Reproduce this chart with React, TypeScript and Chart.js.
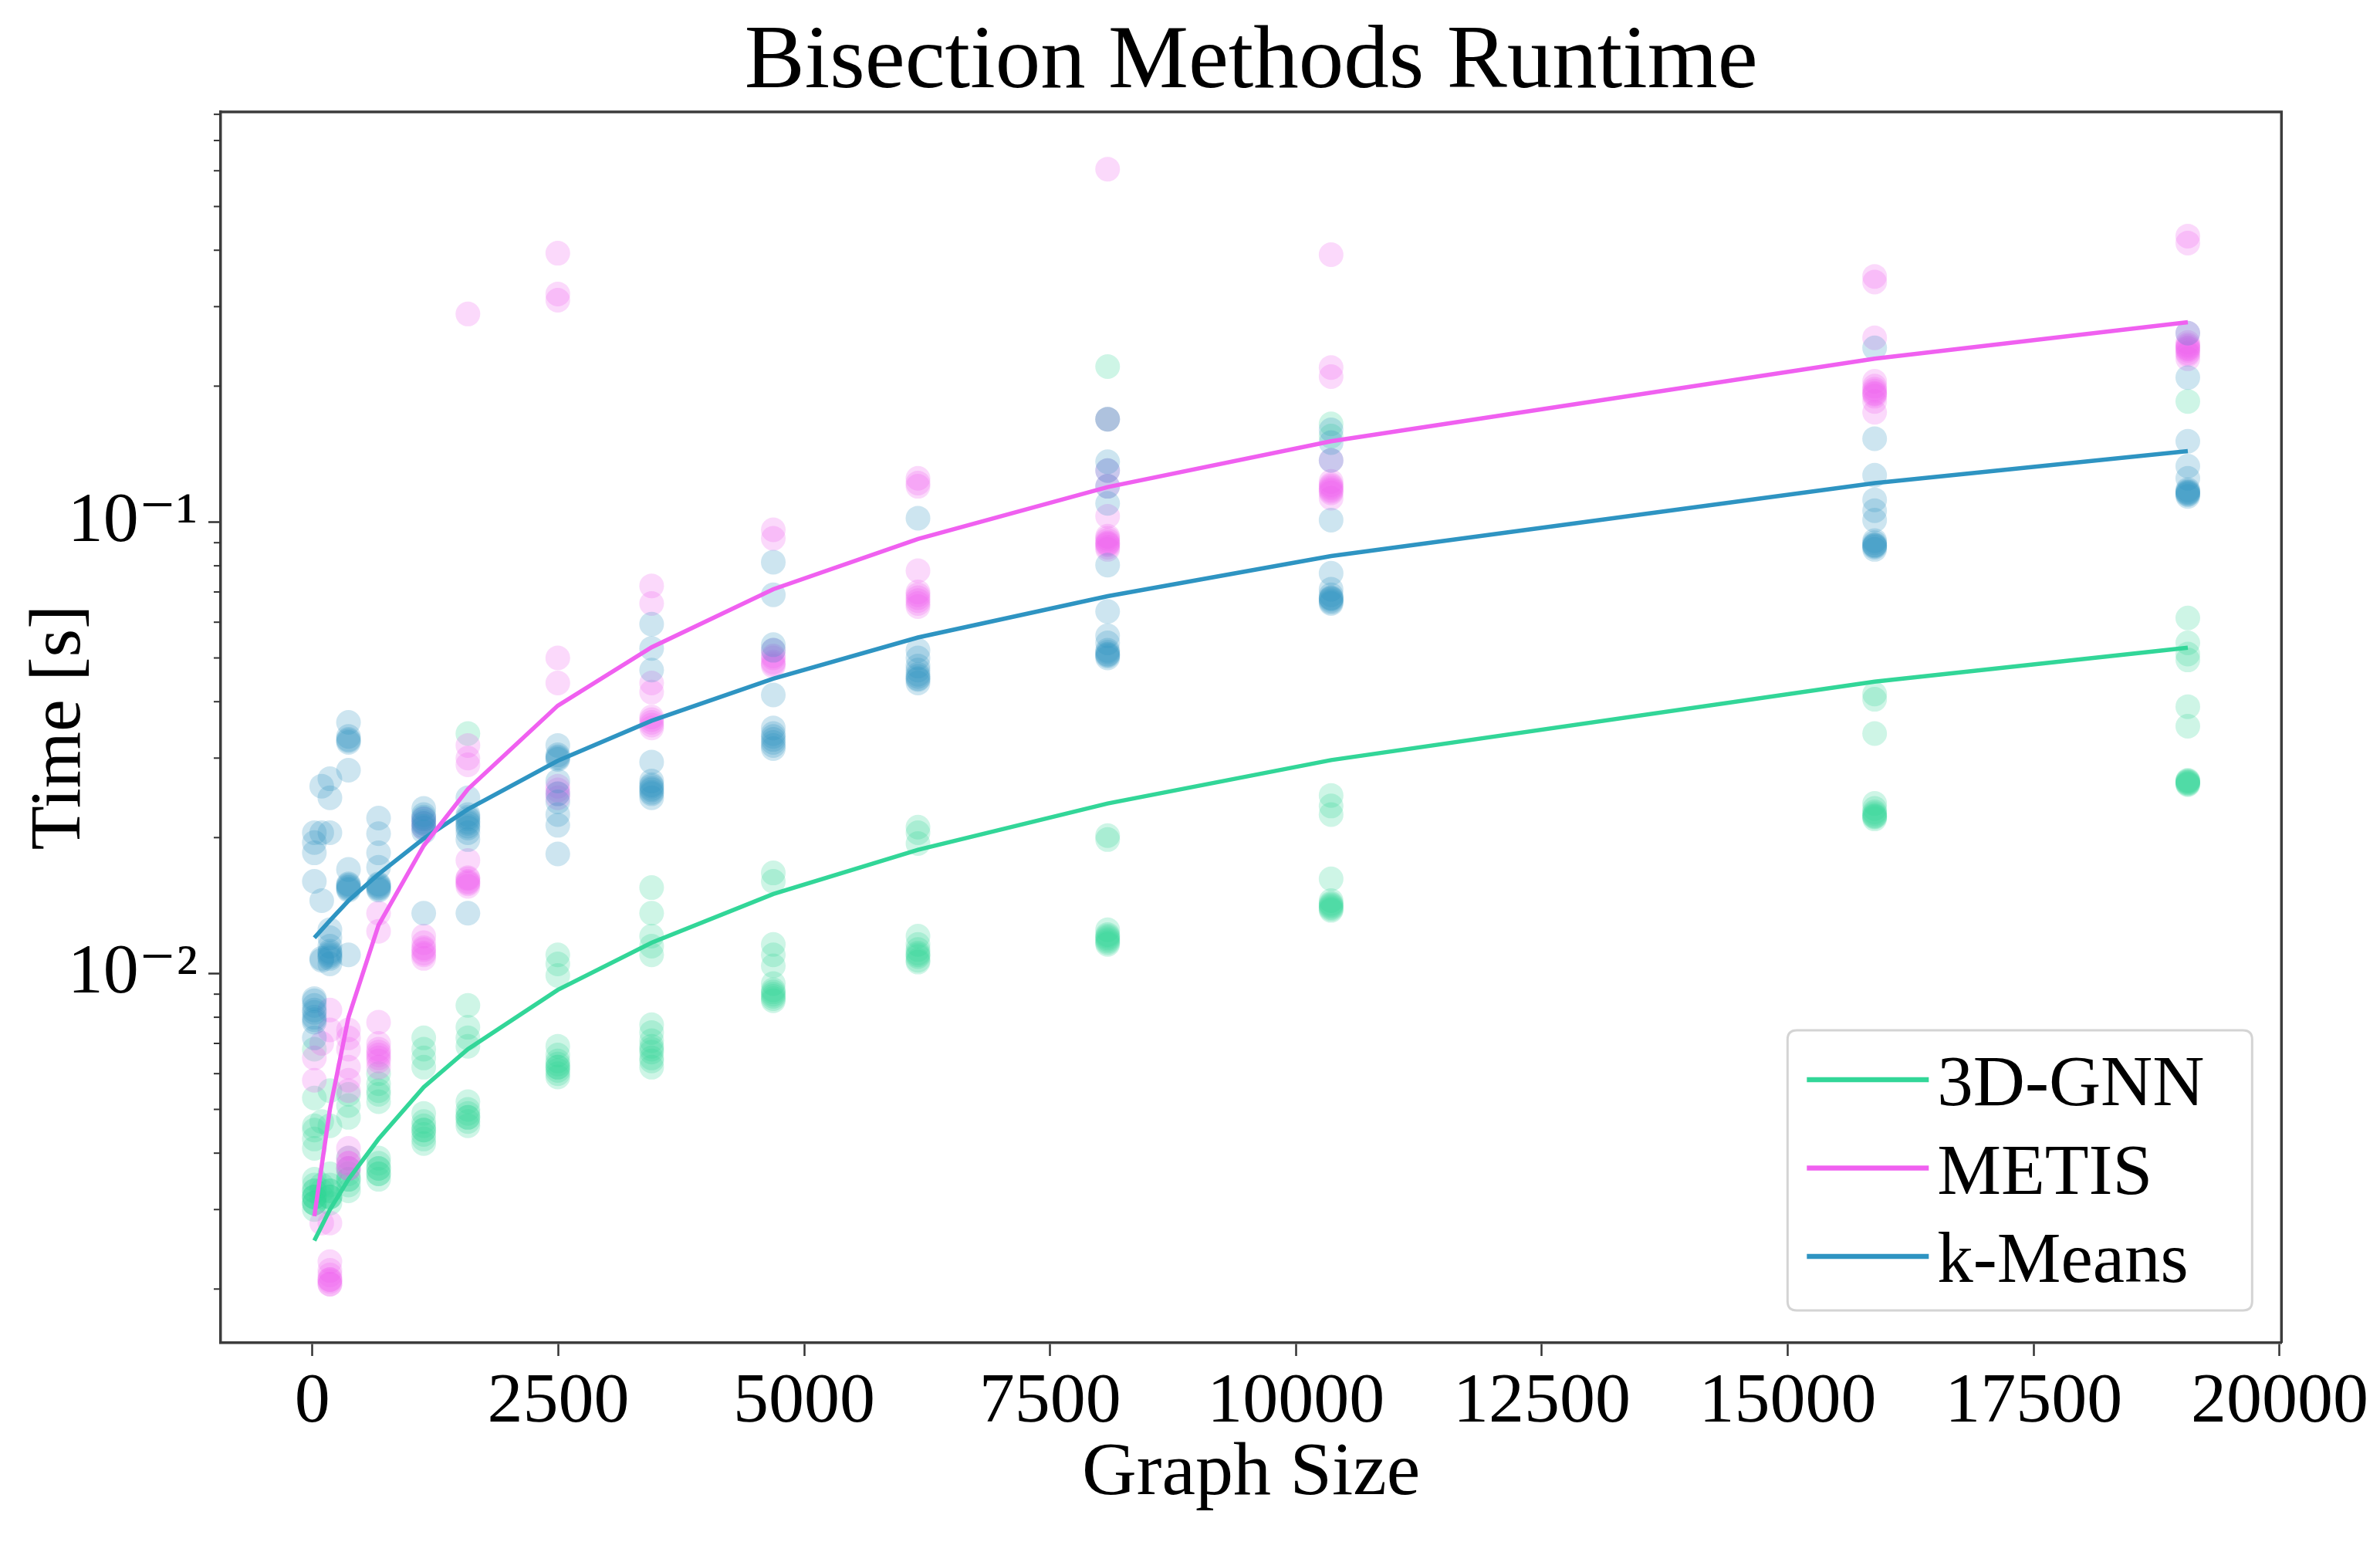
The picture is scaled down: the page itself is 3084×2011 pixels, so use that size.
import React, { useEffect, useRef } from 'react';
import { Chart, registerables } from 'chart.js';

Chart.register(...registerables);

// ---------- text ----------
const TITLE = 'Bisection Methods Runtime';
const X_LABEL = 'Graph Size';
const Y_LABEL = 'Time [s]';
const methodNames = ['3D-GNN', 'METIS', 'k-Means'];

// ---------- axes ----------
const xMin = -932;
const xMax = 20019;
const xTickValues = [0, 2500, 5000, 7500, 10000, 12500, 15000, 17500, 20000];
const yMin = 0.00152;
const yMax = 0.81;
const yMajorTicks = [0.01, 0.1];
const yTickLabels = ['10\u207B\u00B2', '10\u207B\u00B9'];
const yMinorTicks = [
  0.002, 0.003, 0.004, 0.005, 0.006, 0.007, 0.008, 0.009,
  0.02, 0.03, 0.04, 0.05, 0.06, 0.07, 0.08, 0.09,
  0.2, 0.3, 0.4, 0.5, 0.6, 0.7, 0.8,
];

// ---------- fitted curves ----------
const fitSizes = [20, 178, 367, 673, 1132, 1581, 2495, 3449, 4686, 6157, 8085, 10357, 15883, 19067];
const gnnFit = [0.00256, 0.0030, 0.0035, 0.0043, 0.0056, 0.0068, 0.0092, 0.0117, 0.0150, 0.0188, 0.0238, 0.0297, 0.0443, 0.0527];
const metisFit = [0.0029, 0.0050, 0.0080, 0.0128, 0.0192, 0.0256, 0.0392, 0.0528, 0.0710, 0.0917, 0.1195, 0.151, 0.230, 0.277];
const kmeansFit = [0.0120, 0.0131, 0.0145, 0.0166, 0.0199, 0.0231, 0.0296, 0.0363, 0.0450, 0.0555, 0.0685, 0.0841, 0.122, 0.1436];

// ---------- individual runs ----------
const runSizes = [20, 95, 178, 367, 673, 1132, 1581, 2495, 3449, 4686, 6157, 8085, 10357, 15883, 19067];

const gnnRuns: number[][] = [
  [0.0068, 0.0053, 0.0046, 0.0045, 0.0043, 0.0041, 0.0035, 0.0034, 0.0033, 0.0033, 0.0032, 0.0032, 0.0031, 0.0031, 0.0030, 0.0031, 0.0032],
  [0.0047, 0.0034, 0.0033, 0.0032],
  [0.0055, 0.0046, 0.0036, 0.0034, 0.0033, 0.0033, 0.0032, 0.0032, 0.0031, 0.0032],
  [0.0054, 0.0051, 0.0048, 0.0039, 0.0037, 0.0036, 0.0035, 0.0035, 0.0034, 0.0033],
  [0.0060, 0.0057, 0.0055, 0.0054, 0.0052, 0.0039, 0.0038, 0.0037, 0.0037, 0.0036, 0.0036, 0.0035],
  [0.0072, 0.0068, 0.0065, 0.0062, 0.0049, 0.0047, 0.0046, 0.0045, 0.0045, 0.0044, 0.0043, 0.0042],
  [0.034, 0.0085, 0.0076, 0.0072, 0.0069, 0.0052, 0.0050, 0.0049, 0.0048, 0.0048, 0.0047, 0.0046],
  [0.0110, 0.0105, 0.0099, 0.0069, 0.0066, 0.0064, 0.0063, 0.0062, 0.0062, 0.0061, 0.0060, 0.0059],
  [0.0155, 0.0136, 0.0121, 0.0115, 0.0110, 0.0077, 0.0074, 0.0071, 0.0069, 0.0068, 0.0067, 0.0065, 0.0064, 0.0062],
  [0.0167, 0.0160, 0.0116, 0.0110, 0.0104, 0.0095, 0.0092, 0.0091, 0.0090, 0.0089, 0.0088, 0.0087],
  [0.0211, 0.0205, 0.0194, 0.0121, 0.0116, 0.0113, 0.0111, 0.0110, 0.0109, 0.0107, 0.0106],
  [0.221, 0.169, 0.0202, 0.0198, 0.0125, 0.0122, 0.0121, 0.0120, 0.0119, 0.0118, 0.0117, 0.0116],
  [0.165, 0.155, 0.0248, 0.0235, 0.0225, 0.0162, 0.0145, 0.0143, 0.0142, 0.0141, 0.0140, 0.0139, 0.0138],
  [0.0416, 0.0405, 0.0340, 0.0238, 0.0232, 0.0228, 0.0226, 0.0224, 0.0223, 0.0222, 0.0220],
  [0.185, 0.0613, 0.0540, 0.0510, 0.0495, 0.0390, 0.0353, 0.0268, 0.0267, 0.0266, 0.0265, 0.0264, 0.0263, 0.0262],
];

const metisRuns: number[][] = [
  [0.0065, 0.0058],
  [0.0070, 0.0028],
  [0.0028, 0.0023, 0.0022, 0.00215, 0.0021, 0.0021, 0.00208, 0.00205, 0.00205, 0.0083, 0.0075],
  [0.0075, 0.0072, 0.0068, 0.0062, 0.0058, 0.0055, 0.0041, 0.0039, 0.0038, 0.0038, 0.0037, 0.0037],
  [0.0136, 0.0124, 0.0078, 0.0070, 0.0068, 0.0067, 0.0066, 0.0065, 0.0064, 0.0062],
  [0.0220, 0.0215, 0.0210, 0.0121, 0.0117, 0.0114, 0.0113, 0.0111, 0.0110, 0.0108],
  [0.289, 0.032, 0.030, 0.029, 0.0178, 0.0163, 0.0162, 0.0160, 0.0159, 0.0158, 0.0156],
  [0.394, 0.320, 0.310, 0.050, 0.044, 0.026, 0.0255, 0.025, 0.0245],
  [0.0722, 0.066, 0.044, 0.042, 0.037, 0.0365, 0.036, 0.0355, 0.035],
  [0.0961, 0.092, 0.052, 0.0505, 0.050, 0.049, 0.0485, 0.048],
  [0.125, 0.122, 0.120, 0.078, 0.070, 0.069, 0.068, 0.067, 0.066, 0.065],
  [0.605, 0.169, 0.130, 0.120, 0.103, 0.093, 0.092, 0.091, 0.090, 0.0895, 0.089, 0.088, 0.087],
  [0.391, 0.220, 0.210, 0.137, 0.123, 0.121, 0.120, 0.119, 0.118, 0.117, 0.116, 0.113],
  [0.350, 0.340, 0.256, 0.205, 0.200, 0.197, 0.195, 0.193, 0.192, 0.190, 0.185, 0.175],
  [0.430, 0.415, 0.262, 0.250, 0.247, 0.245, 0.243, 0.242, 0.240, 0.237, 0.235, 0.230],
];

const kmeansRuns: number[][] = [
  [0.0205, 0.0195, 0.0185, 0.0160, 0.0088, 0.0087, 0.0085, 0.0083, 0.0082, 0.0080, 0.0079, 0.0078, 0.0072],
  [0.0260, 0.0205, 0.0145, 0.0108, 0.0107],
  [0.0270, 0.0245, 0.0205, 0.0125, 0.0120, 0.0115, 0.0112, 0.0111, 0.0110, 0.0109, 0.0108, 0.0105],
  [0.0360, 0.0335, 0.0330, 0.0328, 0.0325, 0.0282, 0.0170, 0.0158, 0.0157, 0.0156, 0.0155, 0.0154, 0.0153, 0.0110],
  [0.0221, 0.0204, 0.0185, 0.0172, 0.0158, 0.0157, 0.0156, 0.0155, 0.0154, 0.0153],
  [0.0232, 0.0225, 0.0222, 0.0220, 0.0217, 0.0215, 0.0212, 0.0210, 0.0206, 0.0136],
  [0.0245, 0.0225, 0.0222, 0.0220, 0.0217, 0.0215, 0.0212, 0.0210, 0.0205, 0.0198, 0.0136],
  [0.0320, 0.0305, 0.0302, 0.0300, 0.0298, 0.0267, 0.0250, 0.0240, 0.0225, 0.0213, 0.0184],
  [0.0594, 0.0525, 0.0470, 0.0294, 0.0267, 0.0262, 0.0260, 0.0257, 0.0255, 0.0252, 0.0250, 0.0245],
  [0.0815, 0.0690, 0.0535, 0.0520, 0.0414, 0.0350, 0.0340, 0.0335, 0.0330, 0.0325, 0.0320, 0.0315],
  [0.102, 0.052, 0.050, 0.048, 0.047, 0.046, 0.0455, 0.045, 0.0448, 0.044],
  [0.169, 0.136, 0.130, 0.120, 0.110, 0.0803, 0.0634, 0.056, 0.054, 0.052, 0.0515, 0.051, 0.0508, 0.0505, 0.050],
  [0.160, 0.150, 0.137, 0.101, 0.077, 0.071, 0.069, 0.068, 0.0678, 0.0675, 0.067, 0.0665, 0.066],
  [0.243, 0.153, 0.127, 0.112, 0.106, 0.101, 0.091, 0.090, 0.089, 0.0888, 0.0885, 0.088, 0.087],
  [0.262, 0.209, 0.151, 0.133, 0.125, 0.118, 0.117, 0.1165, 0.116, 0.1155, 0.115, 0.114],
];

// ---------- styles ----------
const COLORS = ['rgb(50, 214, 152)', 'rgb(240, 96, 240)', 'rgb(46, 148, 194)'];
const POINT_COLORS = ['rgba(50, 214, 152, 0.24)', 'rgba(240, 96, 240, 0.24)', 'rgba(46, 148, 194, 0.24)'];
const FONT = '"Liberation Serif", "DejaVu Serif", serif';
const FRAME = '#3c3c3c';

function toPoints(sizes: number[], values: number[]) {
  return sizes.map((s, i) => ({ x: s, y: values[i] }));
}
function runsToPoints(runs: number[][]) {
  const pts: { x: number; y: number }[] = [];
  runs.forEach((vals, i) => vals.forEach((v) => pts.push({ x: runSizes[i], y: v })));
  return pts;
}

const decorPlugin = {
  id: 'decor',
  afterDraw(chart: any) {
    const { ctx, chartArea: ca, scales } = chart;
    ctx.save();
    // top and right frame
    ctx.strokeStyle = FRAME;
    ctx.lineWidth = 3.5;
    ctx.beginPath();
    ctx.moveTo(ca.left, ca.top);
    ctx.lineTo(ca.right, ca.top);
    ctx.lineTo(ca.right, ca.bottom);
    ctx.stroke();
    // minor y ticks
    ctx.lineWidth = 2;
    ctx.strokeStyle = '#333';
    for (const v of yMinorTicks) {
      const p = scales.y.getPixelForValue(v);
      if (p < ca.top - 1 || p > ca.bottom + 1) continue;
      ctx.beginPath();
      ctx.moveTo(ca.left, p);
      ctx.lineTo(ca.left - 9, p);
      ctx.stroke();
    }
    // title
    ctx.fillStyle = '#000';
    ctx.font = `117px ${FONT}`;
    ctx.textAlign = 'center';
    ctx.textBaseline = 'alphabetic';
    ctx.fillText(TITLE, (ca.left + ca.right) / 2, 113);

    // legend
    const lw = 602;
    const lh = 363;
    const lx = ca.right - 38 - lw;
    const ly = ca.bottom - 42 - lh;
    const r = 12;
    ctx.beginPath();
    ctx.moveTo(lx + r, ly);
    ctx.lineTo(lx + lw - r, ly);
    ctx.quadraticCurveTo(lx + lw, ly, lx + lw, ly + r);
    ctx.lineTo(lx + lw, ly + lh - r);
    ctx.quadraticCurveTo(lx + lw, ly + lh, lx + lw - r, ly + lh);
    ctx.lineTo(lx + r, ly + lh);
    ctx.quadraticCurveTo(lx, ly + lh, lx, ly + lh - r);
    ctx.lineTo(lx, ly + r);
    ctx.quadraticCurveTo(lx, ly, lx + r, ly);
    ctx.closePath();
    ctx.fillStyle = 'rgba(255,255,255,0.8)';
    ctx.fill();
    ctx.strokeStyle = '#d4d4d4';
    ctx.lineWidth = 3;
    ctx.stroke();
    ctx.font = `93px ${FONT}`;
    ctx.textAlign = 'left';
    ctx.textBaseline = 'alphabetic';
    methodNames.forEach((name, i) => {
      const cy = ly + 64 + i * 114.5;
      ctx.strokeStyle = COLORS[i];
      ctx.lineWidth = 6.5;
      ctx.beginPath();
      ctx.moveTo(lx + 25, cy);
      ctx.lineTo(lx + 183, cy);
      ctx.stroke();
      ctx.fillStyle = '#000';
      ctx.fillText(name, lx + 194, cy + 33);
    });
    ctx.restore();
  },
};

export default function App() {
  const canvasRef = useRef<HTMLCanvasElement | null>(null);

  useEffect(() => {
    document.body.style.margin = '0';
    const canvas = canvasRef.current;
    if (!canvas) return;

    const fits = [gnnFit, metisFit, kmeansFit];
    const runs = [gnnRuns, metisRuns, kmeansRuns];

    const lineSets = fits.map((f, i) => ({
      label: methodNames[i],
      data: toPoints(fitSizes, f),
      showLine: true,
      borderColor: COLORS[i],
      borderWidth: 5.5,
      pointRadius: 0,
      pointHoverRadius: 0,
      fill: false,
      order: 0,
    }));
    const scatterSets = runs.map((rr, i) => ({
      label: methodNames[i] + ' runs',
      data: runsToPoints(rr),
      showLine: false,
      backgroundColor: POINT_COLORS[i],
      borderWidth: 0,
      pointRadius: 16,
      pointHoverRadius: 16,
      order: 3 - i,
    }));

    const chart = new Chart(canvas, {
      type: 'scatter',
      data: { datasets: [...scatterSets, ...lineSets] as any },
      plugins: [decorPlugin],
      options: {
        animation: false,
        responsive: false,
        devicePixelRatio: 1,
        layout: { padding: { left: 0, right: 124, top: 145, bottom: 0 } },
        plugins: {
          legend: { display: false },
          title: { display: false },
          tooltip: { enabled: false },
        },
        scales: {
          x: {
            type: 'linear',
            min: xMin,
            max: xMax,
            afterBuildTicks: (scale: any) => {
              scale.ticks = xTickValues.map((v) => ({ value: v }));
            },
            afterFit: (scale: any) => {
              scale.height = 271;
            },
            grid: {
              display: true,
              drawOnChartArea: false,
              drawTicks: true,
              tickLength: 17,
              tickColor: '#333',
              tickWidth: 2.5,
            },
            border: { display: true, color: FRAME, width: 3.5 },
            ticks: {
              color: '#000',
              padding: 15,
              maxRotation: 0,
              autoSkip: false,
              font: { family: FONT, size: 92, lineHeight: 1 },
              callback: (v: any) => String(v),
            },
            title: {
              display: true,
              text: X_LABEL,
              color: '#000',
              font: { family: FONT, size: 98, lineHeight: 1 },
              padding: { top: 0, bottom: 52 },
            },
          },
          y: {
            type: 'logarithmic',
            min: yMin,
            max: yMax,
            afterBuildTicks: (scale: any) => {
              scale.ticks = yMajorTicks.map((v) => ({ value: v, major: true }));
            },
            afterFit: (scale: any) => {
              scale.width = 286;
            },
            grid: {
              display: true,
              drawOnChartArea: false,
              drawTicks: true,
              tickLength: 16,
              tickColor: '#333',
              tickWidth: 2.5,
            },
            border: { display: true, color: FRAME, width: 3.5 },
            ticks: {
              color: '#000',
              padding: 14,
              autoSkip: false,
              font: { family: FONT, size: 92, lineHeight: 1 },
              callback: (v: any) => {
                const idx = yMajorTicks.findIndex((t) => Math.abs(t - Number(v)) < 1e-9);
                return idx >= 0 ? yTickLabels[idx] : '';
              },
            },
            title: {
              display: true,
              text: Y_LABEL,
              color: '#000',
              font: { family: FONT, size: 94, lineHeight: 1 },
              padding: { top: 31, bottom: 0 },
            },
          },
        },
      } as any,
    });

    return () => {
      chart.destroy();
    };
  }, []);

  return (
    <canvas
      ref={canvasRef}
      width={3084}
      height={2011}
      style={{ display: 'block', width: '3084px', height: '2011px' }}
    />
  );
}
